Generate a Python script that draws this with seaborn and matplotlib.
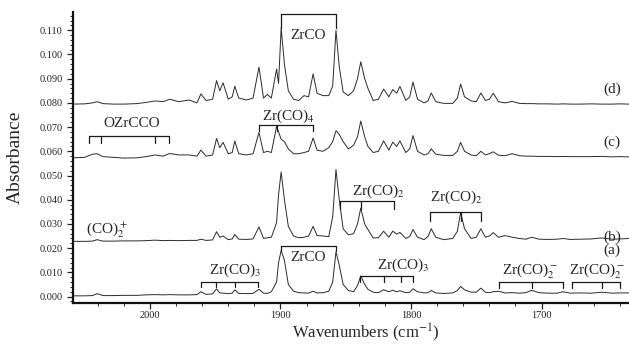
import numpy as np
import pandas as pd
import matplotlib
matplotlib.use("Agg")
import matplotlib.pyplot as plt
from matplotlib.ticker import MultipleLocator, FormatStrFormatter
import seaborn as sns

# wavenumber grid (cm-1), shared by the four traces
wavenumbers = [
    2059, 2050, 2044, 2040.5, 2036, 2028, 2020, 2010, 2003, 1996,
    1990, 1985, 1978, 1970, 1964, 1961, 1957, 1952, 1949, 1946.5,
    1944, 1940, 1937, 1935, 1932, 1926, 1921, 1916.5, 1913, 1910,
    1907, 1903, 1901.5, 1899.5, 1897, 1894, 1890, 1886, 1882, 1878.5,
    1875, 1872, 1867.5, 1863, 1860, 1857.5, 1855, 1852, 1848, 1844,
    1841, 1838.5, 1835.5, 1833, 1829, 1825, 1821, 1817, 1814, 1811,
    1808.5, 1804, 1801, 1798.5, 1795, 1790, 1787, 1784.5, 1781, 1775,
    1768, 1764.5, 1762, 1759, 1754, 1750, 1746.5, 1743, 1740, 1737,
    1733, 1728, 1722.5, 1717, 1712, 1707.5, 1702, 1695, 1688, 1683.5,
    1678, 1670, 1662, 1654, 1646, 1640, 1633,
]

trace_a = [
    .0003, .0003, .0004, .0012, .0004, .0004, .0005, .0005, .0007, .0008,
    .0007, .0008, .0007, .0007, .0008, .0020, .0009, .0011, .0032, .0015,
    .0014, .0012, .0014, .0028, .0013, .0012, .0013, .0030, .0014, .0013,
    .0020, .0060, .0140, .0190, .0150, .0050, .0022, .0016, .0015, .0014,
    .0022, .0015, .0016, .0022, .0060, .0185, .0130, .0050, .0025, .0020,
    .0045, .0085, .0050, .0030, .0018, .0016, .0028, .0020, .0026, .0020,
    .0024, .0016, .0018, .0032, .0020, .0015, .0016, .0025, .0015, .0013,
    .0015, .0025, .0042, .0028, .0018, .0018, .0035, .0018, .0016, .0020,
    .0022, .0015, .0016, .0014, .0016, .0026, .0016, .0014, .0014, .0020,
    .0014, .0015, .0014, .0018, .0014, .0015, .0015,
]

trace_b = [
    .0228, .0228, .0229, .0235, .0229, .0229, .0230, .0230, .0231, .0233,
    .0231, .0232, .0231, .0232, .0232, .0237, .0232, .0234, .0268, .0245,
    .0250, .0235, .0238, .0256, .0237, .0236, .0238, .0288, .0240, .0243,
    .0245, .0305, .0420, .0515, .0400, .0290, .0250, .0243, .0245, .0250,
    .0290, .0252, .0250, .0248, .0330, .0525, .0400, .0280, .0255, .0260,
    .0300, .0365, .0300, .0277, .0242, .0243, .0270, .0245, .0270, .0258,
    .0265, .0240, .0248, .0277, .0245, .0235, .0248, .0280, .0245, .0235,
    .0240, .0270, .0347, .0280, .0240, .0245, .0280, .0245, .0250, .0264,
    .0245, .0252, .0245, .0240, .0237, .0245, .0237, .0236, .0237, .0240,
    .0236, .0237, .0238, .0242, .0237, .0238, .0240,
]

trace_c = [
    .0573, .0575, .0588, .0590, .0578, .0575, .0572, .0573, .0578, .0585,
    .0580, .0591, .0585, .0585, .0580, .0605, .0580, .0585, .0653, .0615,
    .0637, .0590, .0595, .0643, .0590, .0585, .0590, .0678, .0595, .0600,
    .0595, .0703, .0680, .0650, .0640, .0610, .0590, .0590, .0595, .0600,
    .0655, .0605, .0600, .0615, .0640, .0685, .0670, .0640, .0610, .0625,
    .0660, .0725, .0660, .0620, .0595, .0600, .0643, .0605, .0638, .0620,
    .0643, .0595, .0610, .0665, .0600, .0585, .0590, .0610, .0588, .0583,
    .0583, .0600, .0637, .0600, .0585, .0582, .0600, .0585, .0590, .0598,
    .0584, .0582, .0590, .0582, .0580, .0580, .0579, .0579, .0578, .0579,
    .0578, .0578, .0578, .0579, .0577, .0578, .0577,
]

trace_d = [
    .0795, .0796, .0800, .0805, .0797, .0795, .0795, .0797, .0802, .0808,
    .0805, .0815, .0805, .0812, .0800, .0837, .0810, .0815, .0892, .0850,
    .0883, .0815, .0825, .0869, .0820, .0812, .0820, .0948, .0820, .0835,
    .0820, .0940, .0880, .1110, .0960, .0850, .0815, .0810, .0830, .0825,
    .0920, .0840, .0830, .0830, .0870, .1100, .0950, .0845, .0830, .0850,
    .0900, .0970, .0900, .0860, .0810, .0815, .0857, .0825, .0855, .0840,
    .0868, .0810, .0825, .0886, .0815, .0800, .0808, .0841, .0805, .0798,
    .0798, .0820, .0878, .0825, .0808, .0805, .0841, .0810, .0815, .0840,
    .0805, .0800, .0806, .0798, .0797, .0797, .0796, .0796, .0795, .0796,
    .0795, .0795, .0796, .0795, .0795, .0796, .0795,
]

trace_names = ["(a)", "(b)", "(c)", "(d)"]

# band assignments: label, marked wavenumbers
band_labels = ["ZrCO", "OZrCCO", "Zr(CO)$_4$", "Zr(CO)$_2$", "Zr(CO)$_2$",
               "ZrCO", "Zr(CO)$_3$", "Zr(CO)$_3$", "Zr(CO)$_2^-$", "Zr(CO)$_2^-$"]
band_marks = [
    [1899.5, 1857.5],
    [2046.7, 2037.5, 1996.2, 1985.4],
    [1916.5, 1903, 1875],
    [1854.4, 1838.3, 1813],
    [1785.4, 1761.7, 1746.4],
    [1899.6, 1857.5],
    [1961, 1949.4, 1934.9, 1917.2],
    [1839, 1821, 1808, 1798.5],
    [1732.6, 1707.3, 1683.5],
    [1676.6, 1653.6, 1639.8],
]

df = pd.DataFrame({"wn": wavenumbers, "(a)": trace_a, "(b)": trace_b,
                   "(c)": trace_c, "(d)": trace_d})
df = df.melt(id_vars="wn", var_name="trace", value_name="absorbance")

sns.set_theme(style="ticks")
plt.rcParams["font.family"] = ["Liberation Serif", "DejaVu Serif"]
plt.rcParams["mathtext.fontset"] = "stix"

fig = plt.figure(figsize=(6.29, 3.46), dpi=100)
ax = fig.add_axes([0.116, 0.124, 0.884, 0.841])

sns.lineplot(data=df, x="wn", y="absorbance", units="trace", estimator=None,
             color="#2a2a2a", linewidth=0.7, ax=ax)

ax.set_xlim(2059, 1633)
ax.set_ylim(-0.0027, 0.1175)

# bracket placement: (bar y, leg length, text x, text y)
bracket_pos = [
    (0.1169, 0.0060, 1879, 0.1077),
    (0.0664, 0.0030, 2014, 0.0716),
    (0.0708, 0.0025, 1894, 0.0745),
    (0.0393, 0.0030, 1825, 0.0434),
    (0.0349, 0.0035, 1765, 0.0408),
    (0.0210, 0.0020, 1879, 0.0160),
    (0.0062, 0.0022, 1935, 0.0110),
    (0.0086, 0.0025, 1806, 0.0127),
    (0.0061, 0.0025, 1709, 0.0105),
    (0.0061, 0.0025, 1657.5, 0.0105),
]
for label, marks, (yb, leg, tx, ty) in zip(band_labels, band_marks, bracket_pos):
    ax.plot([max(marks), min(marks)], [yb, yb], color="#1a1a1a", lw=0.9)
    for m in marks:
        ax.plot([m, m], [yb, yb - leg], color="#1a1a1a", lw=0.9)
    ax.text(tx, ty, label, ha="center", va="center", fontsize=11)

ax.text(2033, 0.0272, "(CO)$_2^+$", ha="center", va="center", fontsize=11)

trace_label_y = [0.0190, 0.0244, 0.0638, 0.0857]
for name, ty in zip(trace_names, trace_label_y):
    ax.text(1646, ty, name, ha="center", va="center", fontsize=11)

sns.despine(ax=ax)
for s in ["left", "bottom"]:
    ax.spines[s].set_linewidth(1.6)
    ax.spines[s].set_color("#111111")

ax.xaxis.set_major_locator(MultipleLocator(100))
ax.xaxis.set_minor_locator(MultipleLocator(20))
ax.yaxis.set_major_locator(MultipleLocator(0.01))
ax.yaxis.set_minor_locator(MultipleLocator(0.002))
ax.yaxis.set_major_formatter(FormatStrFormatter("%.3f"))
ax.tick_params(which="major", direction="out", length=4, width=0.9,
               labelsize=7.5, colors="#222222")
ax.tick_params(which="minor", direction="out", length=2, width=0.7)
ax.tick_params(axis="x", which="major", pad=2)

ax.set_xlabel("Wavenumbers (cm$^{-1}$)", fontsize=12)
ax.set_ylabel("Absorbance", fontsize=14)
ax.xaxis.set_label_coords(0.527, -0.064)
ax.yaxis.set_label_coords(-0.088, 0.5)

fig.savefig("out.png", dpi=100)
